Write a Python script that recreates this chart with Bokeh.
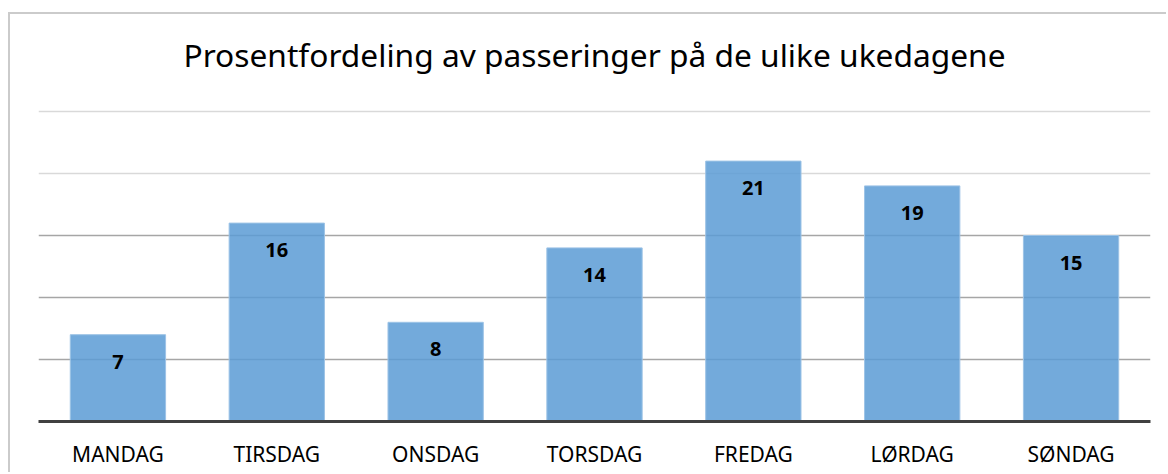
from bokeh.plotting import figure
from bokeh.models import ColumnDataSource, FixedTicker, Grid, FactorRange, Range1d, Label
from bokeh.core.properties import value
from bokeh.embed import file_html
from bokeh.resources import INLINE

days = ["MANDAG", "TIRSDAG", "ONSDAG", "TORSDAG", "FREDAG", "LØRDAG", "SØNDAG"]
shares = [7, 16, 8, 14, 21, 19, 15]
labels = [str(v) for v in shares]
title_text = "Prosentfordeling av passeringer på de ulike ukedagene"
grid_light = [20, 25]
grid_dark = [5, 10, 15]

src = ColumnDataSource(dict(day=days, share=shares, label=labels))

# frame: 407 px tall, 25 units = 310 px -> headroom above 25 holds the title
y_top = 25 * 407 / 310

p = figure(
    x_range=FactorRange(*days, range_padding=0),
    y_range=Range1d(0, y_top),
    width=1158, height=460,
    output_backend="svg", toolbar_location=None,
    min_border_left=28, min_border_right=18, min_border_bottom=53, min_border_top=0,
)
p.styles = {"border-top": "2px solid #cbcbcb", "border-left": "2px solid #cbcbcb",
            "margin-top": "12px", "margin-left": "8px"}
p.outline_line_color = None
p.background_fill_color = "white"
p.border_fill_color = "white"

title = Label(x=3.5, y=25, y_offset=57, text=title_text, text_align="center",
              text_baseline="middle", text_font="Noto Sans", text_font_size="31.7px",
              text_color="#000000")
p.add_layout(title)

p.yaxis.visible = False
p.ygrid.visible = False
p.xgrid.visible = False
p.yaxis.ticker = FixedTicker(ticks=[0, 5, 10, 15, 20, 25])

p.add_layout(Grid(dimension=1, ticker=FixedTicker(ticks=grid_light), grid_line_color="#d9d9d9", grid_line_width=1.5))
p.add_layout(Grid(dimension=1, ticker=FixedTicker(ticks=grid_dark), grid_line_color="#a6a6a6", grid_line_width=1.5))

p.vbar(x="day", top="share", width=0.6, source=src, fill_color="#5b9bd5", fill_alpha=0.85,
       line_color="#9dc3e6", line_width=1)

p.text(x="day", y="share", text="label", source=src, y_offset=27, text_align="center",
       text_baseline="middle", text_font=value("Noto Sans"), text_font_style="bold",
       text_font_size="20px", text_color="#000000")

ax = p.xaxis[0]
ax.axis_line_color = "#404040"
ax.axis_line_width = 3
ax.major_tick_line_color = None
ax.minor_tick_line_color = None
ax.major_label_text_font = "Noto Sans"
ax.major_label_text_font_size = "21px"
ax.major_label_text_color = "#000000"
ax.major_label_standoff = 12

open("out.html", "w").write(file_html(p, INLINE))
